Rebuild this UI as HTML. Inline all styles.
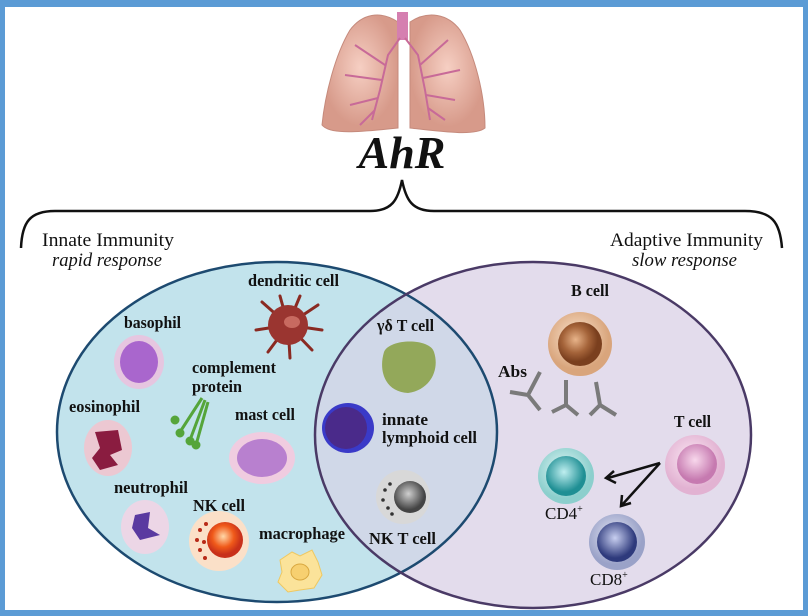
<!DOCTYPE html>
<html><head><meta charset="utf-8"><style>
html,body{margin:0;padding:0;background:#fff}
svg{display:block}
text{font-family:"Liberation Serif",serif;font-weight:bold;fill:#111}
</style></head><body>
<svg width="808" height="616" viewBox="0 0 808 616" xmlns="http://www.w3.org/2000/svg">
<defs>
<radialGradient id="gB" cx="40%" cy="40%"><stop offset="0" stop-color="#e8b48a"/><stop offset="0.6" stop-color="#a5643a"/><stop offset="1" stop-color="#7a3f1e"/></radialGradient>
<radialGradient id="gBo" cx="45%" cy="40%"><stop offset="0" stop-color="#fbe6d2"/><stop offset="1" stop-color="#d9a57c"/></radialGradient>
<radialGradient id="gT" cx="45%" cy="40%"><stop offset="0" stop-color="#f8d8ec"/><stop offset="1" stop-color="#c67ab0"/></radialGradient>
<radialGradient id="gT2" cx="45%" cy="40%"><stop offset="0" stop-color="#fbe9f4"/><stop offset="1" stop-color="#e2b2d2"/></radialGradient>
<radialGradient id="g4" cx="45%" cy="40%"><stop offset="0" stop-color="#bfeff0"/><stop offset="1" stop-color="#1f8f94"/></radialGradient>
<radialGradient id="g4o" cx="45%" cy="40%"><stop offset="0" stop-color="#e4f7f6"/><stop offset="1" stop-color="#8ccfcd"/></radialGradient>
<radialGradient id="g8" cx="45%" cy="40%"><stop offset="0" stop-color="#c8cff0"/><stop offset="1" stop-color="#2e3a7c"/></radialGradient>
<radialGradient id="g8o" cx="45%" cy="40%"><stop offset="0" stop-color="#e6e8f5"/><stop offset="1" stop-color="#9aa2c8"/></radialGradient>
<radialGradient id="gNK" cx="45%" cy="40%"><stop offset="0" stop-color="#ffd8a8"/><stop offset="0.6" stop-color="#f05a1a"/><stop offset="1" stop-color="#c8301a"/></radialGradient>
<radialGradient id="gNT" cx="45%" cy="40%"><stop offset="0" stop-color="#cfcfcf"/><stop offset="1" stop-color="#444"/></radialGradient>
<radialGradient id="gL" cx="50%" cy="45%"><stop offset="0" stop-color="#f6cfc3"/><stop offset="1" stop-color="#d79a8a"/></radialGradient>
<clipPath id="cl"><ellipse cx="277" cy="432" rx="220" ry="170"/></clipPath>
</defs>
<rect x="0" y="0" width="808" height="616" fill="#5b9bd5"/>
<rect x="5" y="7" width="798" height="603" fill="#fff"/>

<!-- lungs -->
<path d="M398 22 C380 10 362 14 350 30 C335 55 325 95 322 125 C330 135 360 132 398 128 Z" fill="url(#gL)" stroke="#c58a7c" stroke-width="1"/>
<path d="M410 22 C428 10 448 14 460 30 C475 55 485 95 485 128 C475 136 445 132 410 128 Z" fill="url(#gL)" stroke="#c58a7c" stroke-width="1"/>
<rect x="397" y="12" width="11" height="28" fill="#d57fb0"/>
<g stroke="#c86a98" stroke-width="2" fill="none">
<path d="M400 38 L388 55 L380 90 L372 120 M385 65 L355 45 M382 80 L345 75 M378 98 L350 105 M375 110 L360 125"/>
<path d="M405 38 L418 55 L425 90 L430 120 M420 65 L448 40 M423 78 L460 70 M426 95 L455 100 M428 108 L445 120"/>
</g>

<text x="402" y="168" text-anchor="middle" font-size="46" font-style="italic">AhR</text>

<!-- brace -->
<path d="M21 248 C22 222 30 211 55 211 L370 211 C392 211 398 200 402 180 C406 200 412 211 434 211 L745 211 C772 211 780 222 782 248" fill="none" stroke="#111" stroke-width="2.5"/>

<g font-size="19" style="font-weight:normal">
<text x="42" y="246" textLength="132" lengthAdjust="spacingAndGlyphs" style="font-weight:normal">Innate Immunity</text>
<text x="52" y="266" textLength="110" lengthAdjust="spacingAndGlyphs" font-style="italic" style="font-weight:normal">rapid response</text>
<text x="610" y="246" textLength="153" lengthAdjust="spacingAndGlyphs" style="font-weight:normal">Adaptive Immunity</text>
<text x="632" y="266" textLength="105" lengthAdjust="spacingAndGlyphs" font-style="italic" style="font-weight:normal">slow response</text>
</g>

<!-- venn -->
<ellipse cx="277" cy="432" rx="220" ry="170" fill="#c2e3ec"/>
<ellipse cx="533" cy="435" rx="218" ry="173" fill="#e3dcec"/>
<ellipse cx="533" cy="435" rx="218" ry="173" fill="#d0d8e8" clip-path="url(#cl)"/>
<ellipse cx="277" cy="432" rx="220" ry="170" fill="none" stroke="#1d4a70" stroke-width="2.5"/>
<ellipse cx="533" cy="435" rx="218" ry="173" fill="none" stroke="#4a3a66" stroke-width="2.5"/>

<g font-size="17">
<text x="248" y="286" textLength="91" lengthAdjust="spacingAndGlyphs">dendritic cell</text>
<text x="124" y="328" textLength="57" lengthAdjust="spacingAndGlyphs">basophil</text>
<text x="192" y="373" textLength="84" lengthAdjust="spacingAndGlyphs">complement</text>
<text x="192" y="392" textLength="50" lengthAdjust="spacingAndGlyphs">protein</text>
<text x="69" y="412" textLength="71" lengthAdjust="spacingAndGlyphs">eosinophil</text>
<text x="235" y="420" textLength="60" lengthAdjust="spacingAndGlyphs">mast cell</text>
<text x="114" y="493" textLength="74" lengthAdjust="spacingAndGlyphs">neutrophil</text>
<text x="193" y="511" textLength="52" lengthAdjust="spacingAndGlyphs">NK cell</text>
<text x="259" y="539" textLength="86" lengthAdjust="spacingAndGlyphs">macrophage</text>
<text x="377" y="331" textLength="57" lengthAdjust="spacingAndGlyphs">γδ T cell</text>
<text x="382" y="425" textLength="46" lengthAdjust="spacingAndGlyphs">innate</text>
<text x="382" y="443" textLength="95" lengthAdjust="spacingAndGlyphs">lymphoid cell</text>
<text x="369" y="544" textLength="67" lengthAdjust="spacingAndGlyphs">NK T cell</text>
<text x="571" y="296" textLength="38" lengthAdjust="spacingAndGlyphs">B cell</text>
<text x="498" y="377" textLength="29" lengthAdjust="spacingAndGlyphs">Abs</text>
<text x="674" y="427" textLength="37" lengthAdjust="spacingAndGlyphs">T cell</text>
<text x="545" y="519" style="font-weight:normal">CD4<tspan font-size="10" dy="-7">+</tspan></text>
<text x="590" y="585" style="font-weight:normal">CD8<tspan font-size="10" dy="-7">+</tspan></text>
</g>

<!-- dendritic -->
<g stroke="#8a2a22" stroke-width="3" stroke-linecap="round">
<path d="M288 325 L262 302 M288 325 L280 296 M288 325 L300 296 M288 325 L318 305 M288 325 L322 330 M288 325 L312 350 M288 325 L290 358 M288 325 L268 352 M288 325 L256 330"/>
</g>
<circle cx="288" cy="325" r="20" fill="#9a3530"/>
<ellipse cx="292" cy="322" rx="8" ry="6" fill="#c86a60"/>
<!-- basophil -->
<ellipse cx="139" cy="362" rx="25" ry="27" fill="#e6c6e0"/>
<ellipse cx="139" cy="362" rx="19" ry="21" fill="#9a4ec8" opacity="0.8"/>
<!-- complement -->
<g stroke="#55a53a" stroke-width="3" fill="#55a53a">
<path d="M205 400 L190 440 M208 402 L196 445 M202 398 L180 432" fill="none"/>
<circle cx="180" cy="433" r="3"/><circle cx="190" cy="441" r="3"/><circle cx="196" cy="445" r="3"/><circle cx="175" cy="420" r="3"/>
</g>
<!-- eosinophil -->
<ellipse cx="108" cy="448" rx="24" ry="28" fill="#ecc8d2"/>
<path d="M95 432 L118 430 L122 450 L110 455 L118 465 L100 470 L92 458 L100 448 Z" fill="#8a1c40"/>
<!-- mast -->
<ellipse cx="262" cy="458" rx="33" ry="26" fill="#f0cce0"/>
<ellipse cx="262" cy="458" rx="25" ry="19" fill="#a060c8" opacity="0.7"/>
<!-- neutrophil -->
<ellipse cx="145" cy="527" rx="24" ry="27" fill="#ecd6e6"/>
<path d="M135 515 L150 512 L148 528 L160 535 L140 540 L132 528 Z" fill="#5a3aa0"/>
<!-- NK -->
<circle cx="219" cy="541" r="30" fill="#fbe0c8"/>
<circle cx="225" cy="540" r="18" fill="url(#gNK)"/>
<g fill="#b82a18"><circle cx="200" cy="530" r="2"/><circle cx="197" cy="540" r="2"/><circle cx="200" cy="550" r="2"/><circle cx="205" cy="558" r="2"/><circle cx="206" cy="524" r="2"/><circle cx="204" cy="542" r="2"/></g>
<!-- macrophage -->
<path d="M280 560 L292 552 L300 556 L312 550 L318 562 L322 575 L314 588 L300 590 L288 592 L278 582 L282 572 Z" fill="#fbe39a" stroke="#efc860"/>
<ellipse cx="300" cy="572" rx="9" ry="8" fill="#f7d070" stroke="#d9a840"/>
<!-- gd T -->
<path d="M384 352 C390 338 430 338 434 352 C440 370 430 390 408 393 C386 392 378 372 384 352 Z" fill="#93a85a"/>
<!-- ILC -->
<ellipse cx="348" cy="428" rx="26" ry="25" fill="#3a3ac8"/>
<ellipse cx="346" cy="428" rx="21" ry="21" fill="#4a2a8a"/>
<!-- NK T -->
<circle cx="403" cy="497" r="27" fill="#d8d8d8"/>
<circle cx="410" cy="497" r="16" fill="url(#gNT)"/>
<g fill="#333"><circle cx="385" cy="490" r="1.8"/><circle cx="383" cy="500" r="1.8"/><circle cx="388" cy="508" r="1.8"/><circle cx="390" cy="484" r="1.8"/><circle cx="392" cy="514" r="1.8"/></g>
<!-- B cell -->
<circle cx="580" cy="344" r="32" fill="url(#gBo)"/>
<circle cx="580" cy="344" r="22" fill="url(#gB)"/>
<!-- antibodies -->
<g stroke="#7a7a7a" stroke-width="4" fill="none">
<path d="M540 372 L528 395 L540 410 M528 395 L510 392"/>
<path d="M566 380 L566 405 L552 412 M566 405 L578 415"/>
<path d="M596 382 L600 405 L590 415 M600 405 L616 415"/>
</g>
<!-- T cell -->
<circle cx="695" cy="465" r="30" fill="url(#gT2)"/>
<circle cx="697" cy="464" r="20" fill="url(#gT)"/>
<!-- CD4 -->
<circle cx="566" cy="476" r="28" fill="url(#g4o)"/>
<circle cx="566" cy="476" r="20" fill="url(#g4)"/>
<!-- CD8 -->
<circle cx="617" cy="542" r="28" fill="url(#g8o)"/>
<circle cx="617" cy="542" r="20" fill="url(#g8)"/>
<!-- arrows -->
<g stroke="#111" stroke-width="2.5" fill="none">
<path d="M660 463 L608 478 M614 471 L606 478 L616 483"/>
<path d="M660 463 L622 505 M622 495 L621 506 L631 503"/>
</g>
</svg>
</body></html>
